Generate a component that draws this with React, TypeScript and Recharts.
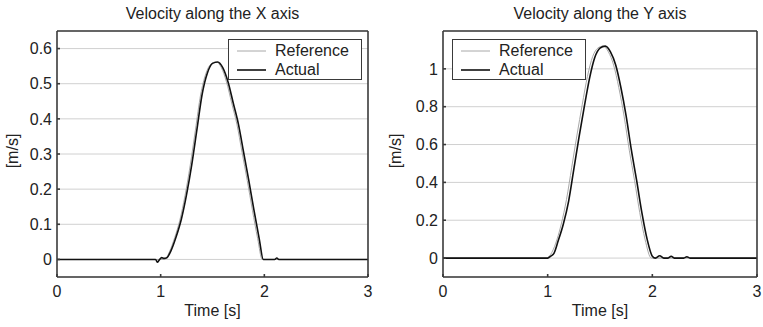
import { LineChart, Line, XAxis, YAxis, CartesianGrid } from 'recharts';

const timeTicks = [0, 1, 2, 3];
const xVelTicks = [0, 0.1, 0.2, 0.3, 0.4, 0.5, 0.6];
const yVelTicks = [0, 0.2, 0.4, 0.6, 0.8, 1];

// velocity along X
const xActualT = [0, 0.9, 0.95, 0.97, 0.99, 1.01, 1.03, 1.06, 1.1, 1.15, 1.2, 1.25, 1.3, 1.35, 1.4, 1.45, 1.5, 1.55, 1.6, 1.65, 1.7, 1.75, 1.8, 1.85, 1.9, 1.95, 1.99, 2.1, 2.12, 2.14, 3];
const xActualV = [0, 0, 0, -0.008, 0, 0.005, 0.003, 0.005, 0.025, 0.065, 0.115, 0.185, 0.27, 0.37, 0.47, 0.53, 0.558, 0.562, 0.545, 0.505, 0.445, 0.385, 0.305, 0.225, 0.14, 0.06, 0, 0, 0.004, 0, 0];
const xRefT = [0, 1.04, 1.085, 1.135, 1.185, 1.235, 1.285, 1.335, 1.385, 1.435, 1.485, 1.535, 1.585, 1.635, 1.685, 1.735, 1.785, 1.835, 1.885, 1.935, 1.98, 3];
const xRefV = [0, 0, 0.022, 0.062, 0.112, 0.182, 0.268, 0.368, 0.468, 0.528, 0.556, 0.562, 0.546, 0.505, 0.445, 0.385, 0.305, 0.225, 0.14, 0.06, 0, 0];

// velocity along Y
const yActualT = [0, 1.0, 1.03, 1.06, 1.1, 1.15, 1.2, 1.25, 1.3, 1.35, 1.4, 1.45, 1.5, 1.55, 1.6, 1.65, 1.7, 1.75, 1.8, 1.85, 1.9, 1.95, 2.0, 2.03, 2.07, 2.11, 2.15, 2.18, 2.21, 2.3, 2.33, 2.36, 3];
const yActualV = [0, 0, 0.01, 0.025, 0.09, 0.18, 0.3, 0.47, 0.64, 0.8, 0.95, 1.06, 1.11, 1.12, 1.09, 1.02, 0.9, 0.75, 0.57, 0.41, 0.24, 0.1, 0.01, 0, 0.012, 0, 0, 0.01, 0, 0, 0.007, 0, 0];
const yRefT = [0, 0.99, 1.04, 1.09, 1.13, 1.18, 1.23, 1.28, 1.33, 1.38, 1.43, 1.48, 1.53, 1.58, 1.63, 1.68, 1.73, 1.78, 1.83, 1.88, 1.93, 1.99, 3];
const yRefV = [0, 0, 0.03, 0.1, 0.18, 0.31, 0.48, 0.65, 0.81, 0.96, 1.065, 1.11, 1.12, 1.09, 1.02, 0.9, 0.75, 0.57, 0.41, 0.24, 0.1, 0, 0];

const zip = (t: number[], v: number[]) => t.map((x, i) => ({ t: x, v: v[i] }));

const font = '"Liberation Sans", Arial, sans-serif';
const ink = '#222';
const frame = '#3a3a3a';

type PanelProps = {
  left: number;
  title: string;
  actual: { t: number; v: number }[];
  reference: { t: number; v: number }[];
  yDomain: [number, number];
  yTicks: number[];
  plotLeft: number;
  plotRight: number;
  legendLeft: number;
};

const W = 380;
const H = 327;
const PLOT_TOP = 31;
const PLOT_BOTTOM = 277;

function Panel({ left, title, actual, reference, yDomain, yTicks, plotLeft, plotRight, legendLeft }: PanelProps) {
  const plotW = plotRight - plotLeft;
  const plotH = PLOT_BOTTOM - PLOT_TOP;
  const margin = { top: PLOT_TOP - 1, right: W - plotRight - 1, bottom: H - PLOT_BOTTOM - 30, left: 0 };
  return (
    <div style={{ position: 'absolute', left, top: 0, width: W, height: H, fontFamily: font, color: ink }}>
      <LineChart width={W} height={H} margin={margin}>
        <CartesianGrid vertical={false} stroke="#d0d0d0" />
        <XAxis
          type="number"
          dataKey="t"
          domain={[0, 3]}
          ticks={timeTicks}
          allowDataOverflow
          height={30}
          stroke={frame}
          strokeWidth={1.6}
          tickSize={-3}
          tickMargin={12}
          tick={{ fontSize: 16, fill: ink, fontFamily: font }}
        />
        <XAxis
          xAxisId="top"
          orientation="top"
          type="number"
          domain={[0, 3]}
          ticks={timeTicks}
          height={1}
          stroke={frame}
          strokeWidth={1.6}
          tick={false}
          tickSize={-3}
        />
        <YAxis
          type="number"
          domain={yDomain}
          ticks={yTicks}
          allowDataOverflow
          width={plotLeft}
          stroke={frame}
          strokeWidth={1.6}
          tickSize={-3}
          tickMargin={8}
          tick={{ fontSize: 16, fill: ink, fontFamily: font }}
        />
        <YAxis
          yAxisId="right"
          orientation="right"
          type="number"
          domain={yDomain}
          ticks={yTicks}
          width={1}
          stroke={frame}
          strokeWidth={1.6}
          tick={false}
          tickSize={-3}
        />
        <Line data={reference} dataKey="v" type="monotone" stroke="#a8a8a8" strokeWidth={1} dot={false} isAnimationActive={false} />
        <Line data={actual} dataKey="v" type="monotone" stroke="#111" strokeWidth={1.6} dot={false} isAnimationActive={false} />
      </LineChart>
      <div style={{ position: 'absolute', left: plotLeft, width: plotW, top: 5, textAlign: 'center', fontSize: 16 }}>{title}</div>
      <div style={{ position: 'absolute', left: plotLeft, width: plotW, top: PLOT_BOTTOM + 25, textAlign: 'center', fontSize: 16 }}>Time [s]</div>
      <div
        style={{
          position: 'absolute',
          left: 13,
          top: PLOT_TOP + plotH / 2 - 3,
          transform: 'translate(-50%, -50%) rotate(-90deg)',
          fontSize: 16,
          whiteSpace: 'nowrap',
        }}
      >
        [m/s]
      </div>
      <div
        style={{
          position: 'absolute',
          left: legendLeft,
          top: 39,
          width: 132,
          height: 39,
          border: `1.6px solid ${frame}`,
          background: '#fff',
          fontSize: 16,
        }}
      >
        {[
          { name: 'Reference', color: '#a8a8a8', sw: 1 },
          { name: 'Actual', color: '#111', sw: 1.6 },
        ].map((s, i) => (
          <div key={s.name} style={{ position: 'absolute', left: 8, top: 2 + i * 19, height: 18, display: 'flex', alignItems: 'center' }}>
            <svg width={29} height={18}>
              <line x1={0} x2={29} y1={9} y2={9} stroke={s.color} strokeWidth={s.sw} />
            </svg>
            <span style={{ marginLeft: 9 }}>{s.name}</span>
          </div>
        ))}
      </div>
    </div>
  );
}

export default function App() {
  return (
    <div style={{ position: 'absolute', left: 0, top: 0, width: 763, height: 327, background: '#fff' }}>
      <Panel
        left={0}
        title="Velocity along the X axis"
        actual={zip(xActualT, xActualV)}
        reference={zip(xRefT, xRefV)}
        yDomain={[-0.05, 0.65]}
        yTicks={xVelTicks}
        plotLeft={57}
        plotRight={368}
        legendLeft={228}
      />
      <Panel
        left={383}
        title="Velocity along the Y axis"
        actual={zip(yActualT, yActualV)}
        reference={zip(yRefT, yRefV)}
        yDomain={[-0.1, 1.2]}
        yTicks={yVelTicks}
        plotLeft={60}
        plotRight={374}
        legendLeft={69}
      />
    </div>
  );
}
